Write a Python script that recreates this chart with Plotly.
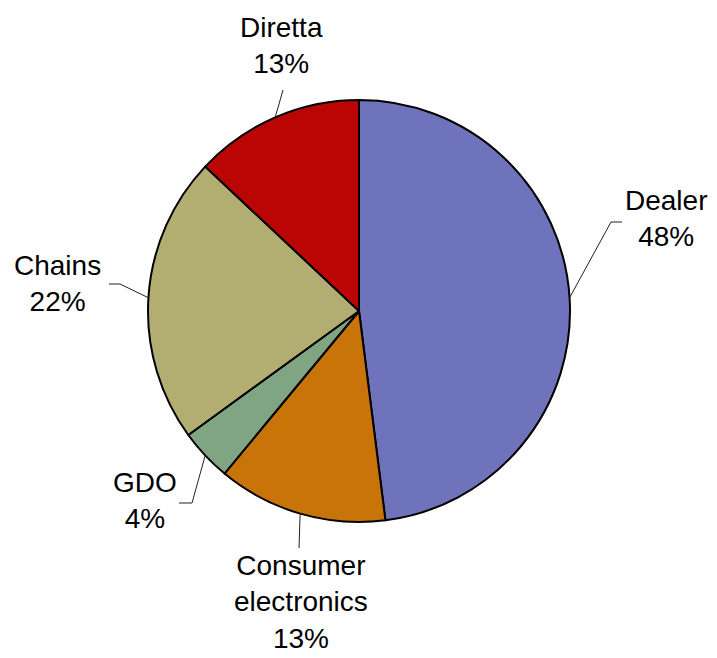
import math
import plotly.graph_objects as go

# ---- data ----
categories = ["Dealer", "Consumer electronics", "GDO", "Chains", "Diretta"]
values = [48, 13, 4, 22, 13]
label_texts = ["Dealer<br>48%", "Consumer<br>electronics<br>13%", "GDO<br>4%", "Chains<br>22%", "Diretta<br>13%"]
colors = ["#6f73bb", "#c97408", "#80a583", "#b2ae72", "#bb0404"]

# ---- layout (pixels) ----
W, H = 717, 658
CX, CY, R = 359, 311, 211
# label block centers and leader elbows (pixel layout)
label_pos = [(666, 218), (301, 602), (145, 500), (57, 283), (281, 45)]
leader_pts = [
    [(611, 222), (622, 222)],
    [(299, 548)],
    [(192, 503), (179, 503)],
    [(120, 284), (109, 284)],
    [(283, 90)],
]

def px(x):
    return x / W

def py(y):
    return 1 - y / H

fig = go.Figure(go.Pie(
    labels=categories,
    values=values,
    sort=False,
    direction="clockwise",
    rotation=0,
    textinfo="none",
    hoverinfo="label+percent",
    marker=dict(colors=colors, line=dict(color="#000000", width=2)),
    domain=dict(x=[px(CX - R), px(CX + R)], y=[py(CY + R), py(CY - R)]),
    showlegend=False,
))

total = sum(values)
cum = 0
shapes = []
annotations = []
for i, v in enumerate(values):
    mid = (cum + v / 2) / total * 2 * math.pi
    cum += v
    sx = CX + R * math.sin(mid)
    sy = CY - R * math.cos(mid)
    pts = [(sx, sy)] + leader_pts[i]
    for (x0, y0), (x1, y1) in zip(pts[:-1], pts[1:]):
        shapes.append(dict(type="line", xref="paper", yref="paper",
                           x0=px(x0), y0=py(y0), x1=px(x1), y1=py(y1),
                           line=dict(color="#222222", width=1)))
    lx, ly = label_pos[i]
    annotations.append(dict(x=px(lx), y=py(ly), xref="paper", yref="paper",
                            text=label_texts[i], showarrow=False,
                            xanchor="center", yanchor="middle", align="center",
                            font=dict(family="Liberation Sans, Arial, sans-serif", size=28, color="#000000")))

fig.update_layout(
    width=W, height=H,
    margin=dict(l=0, r=0, t=0, b=0),
    paper_bgcolor="white", plot_bgcolor="white",
    shapes=shapes, annotations=annotations,
)
fig.write_html("out.html", config={"displayModeBar": False},
               post_script="document.body.style.margin='0';document.body.style.overflow='hidden';")
